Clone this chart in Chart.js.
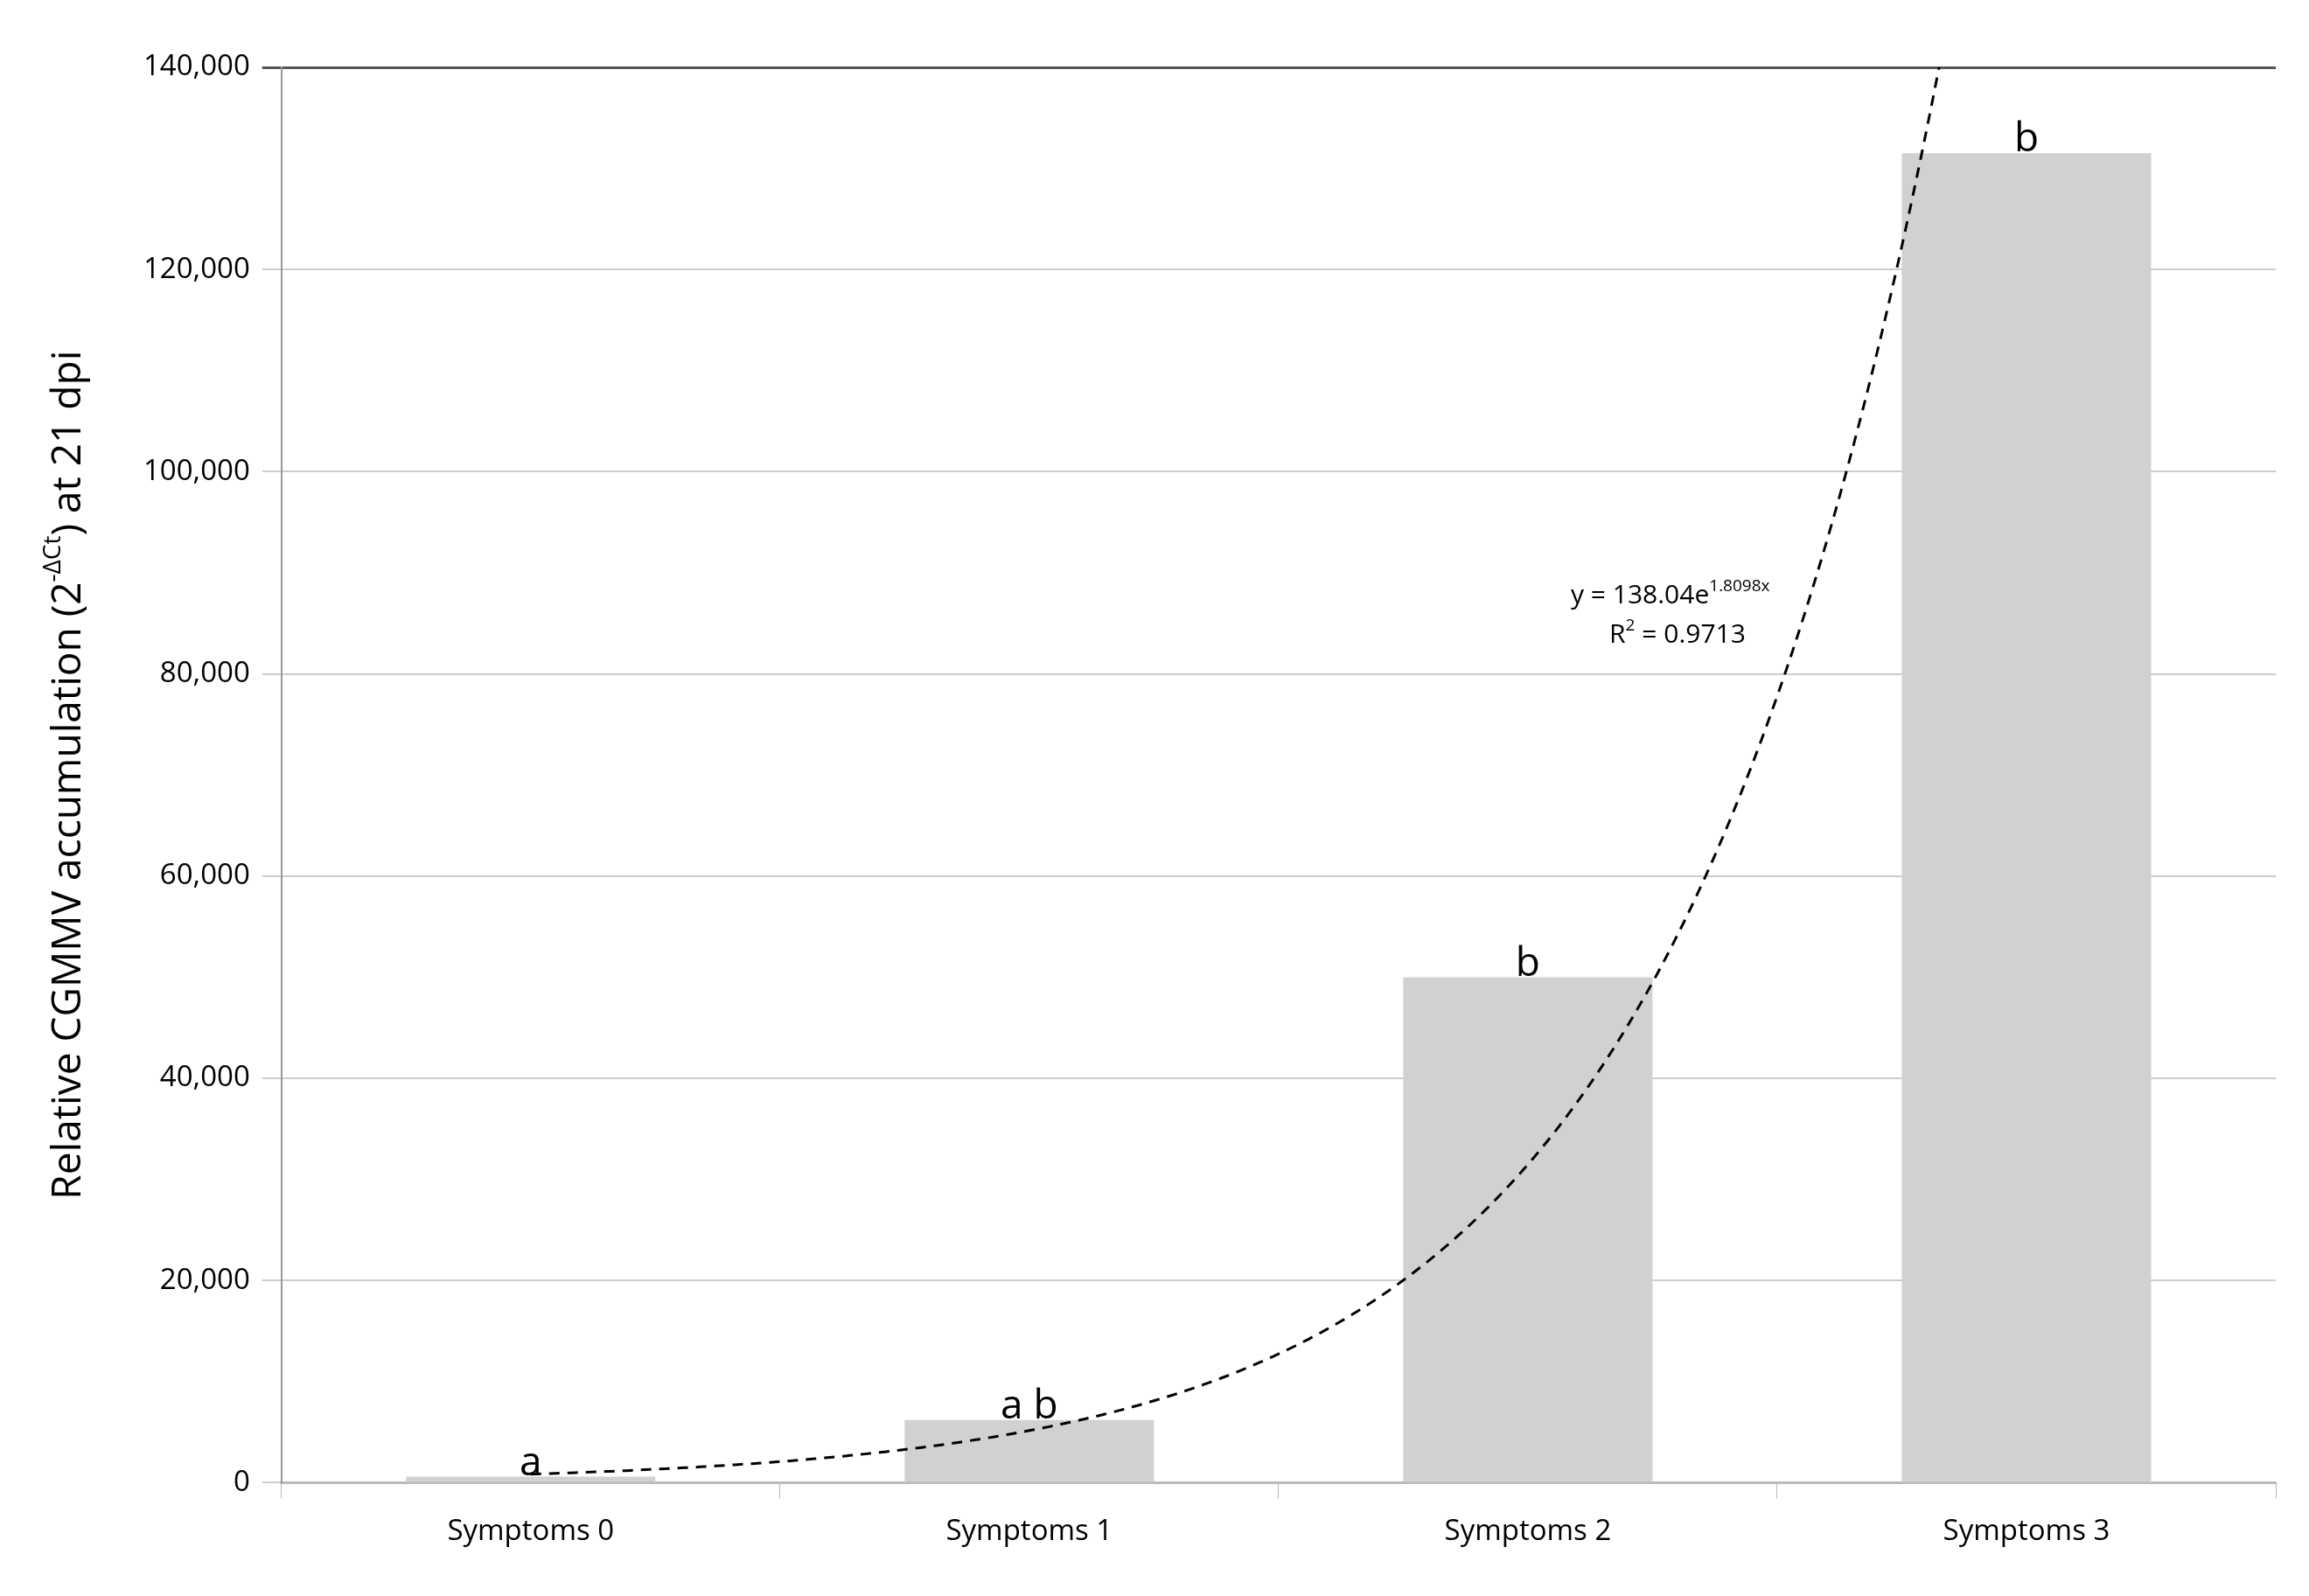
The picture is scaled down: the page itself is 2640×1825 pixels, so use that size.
<!DOCTYPE html>
<html><head><meta charset="utf-8">
<script src="https://cdn.jsdelivr.net/npm/chart.js@4"></script>
<style>html,body{margin:0;background:#fff}#w{width:2640px;height:1825px}</style>
</head><body><div id="w"><canvas id="c"></canvas></div>
<script>
const categories = ['Symptoms 0','Symptoms 1','Symptoms 2','Symptoms 3'];
const values = [600, 6200, 50000, 131500];
const letters = ['a','a b','b','b'];
const trendA = 138.04, trendB = 1.8098;
const yTicks = [0,20000,40000,60000,80000,100000,120000,140000];
const F = 'Open Sans';

const extras = {
  id:'extras',
  afterDatasetsDraw(ch){
    const {ctx, scales:{x,y}, chartArea:a} = ch;
    const meta = ch.getDatasetMeta(0);
    ctx.save();
    ctx.fillStyle='#000'; ctx.font=`46px ${F}`; ctx.textAlign='center'; ctx.textBaseline='bottom';
    meta.data.forEach((b,i)=>ctx.fillText(letters[i], b.x, b.y+8));
    ctx.beginPath(); ctx.rect(a.left,a.top,a.right-a.left,a.bottom-a.top); ctx.clip();
    const p0=x.getPixelForValue(0), step=x.getPixelForValue(1)-p0;
    ctx.beginPath(); ctx.setLineDash([12,9]); ctx.lineWidth=3; ctx.strokeStyle='#000';
    let first=true;
    for(let t=1;t<=4.0001;t+=0.01){
      const px=p0+(t-1)*step, py=y.getPixelForValue(trendA*Math.exp(trendB*t));
      if(first){ctx.moveTo(px,py);first=false;} else ctx.lineTo(px,py);
      if(py<a.top-50)break;
    }
    ctx.stroke(); ctx.restore();
    ctx.save(); ctx.fillStyle='#000'; ctx.textBaseline='alphabetic'; ctx.textAlign='left';
    ctx.font=`30px ${F}`; ctx.fillText('y = 138.04e',1796,690);
    let w=ctx.measureText('y = 138.04e').width;
    ctx.font=`19px ${F}`; ctx.fillText('1.8098x',1796+w,676);
    ctx.font=`30px ${F}`; ctx.fillText('R',1840,735);
    let w2=ctx.measureText('R').width;
    ctx.font=`19px ${F}`; ctx.fillText('2',1840+w2,721);
    ctx.font=`30px ${F}`; ctx.fillText(' = 0.9713',1840+w2+11,735);
    ctx.translate(75,(a.top+a.bottom)/2); ctx.rotate(-Math.PI/2);
    const parts=[['Relative CGMMV accumulation (2',46,0],['-ΔCt',28,-18],[') at 21 dpi',46,0]];
    let tot=0; parts.forEach(p=>{ctx.font=`${p[1]}px ${F}`; tot+=ctx.measureText(p[0]).width;});
    let cx=-tot/2; ctx.textBaseline='middle';
    parts.forEach(p=>{ctx.font=`${p[1]}px ${F}`; ctx.fillText(p[0],cx,p[2]+4); cx+=ctx.measureText(p[0]).width;});
    ctx.restore();
  }
};

new Chart(document.getElementById('c'),{
  type:'bar',
  data:{labels:categories,datasets:[{data:values,backgroundColor:'#d3d0d1',categoryPercentage:0.5,barPercentage:1}]},
  options:{responsive:true,maintainAspectRatio:false,animation:false,
    layout:{padding:{left:150,right:38,top:77,bottom:36}},
    plugins:{legend:{display:false},tooltip:{enabled:false}},
    scales:{
      x:{grid:{offset:true,drawOnChartArea:false,color:'#bbb',tickLength:18},border:{color:'#bbb',width:3},
         ticks:{color:'#000',font:{family:F,size:33},padding:18}},
      y:{min:0,max:140000,afterBuildTicks(s){s.ticks=yTicks.map(v=>({value:v}));},
         grid:{color:c=>c.tick&&c.tick.value===140000?'#555':'#ccc',lineWidth:c=>c.tick&&c.tick.value===140000?3:2,tickLength:22},
         border:{color:'#999',width:2},
         ticks:{color:'#000',font:{family:F,size:33},padding:14,callback:v=>v.toLocaleString('en-US')}}
    }},
  plugins:[extras]
});
</script></body></html>
